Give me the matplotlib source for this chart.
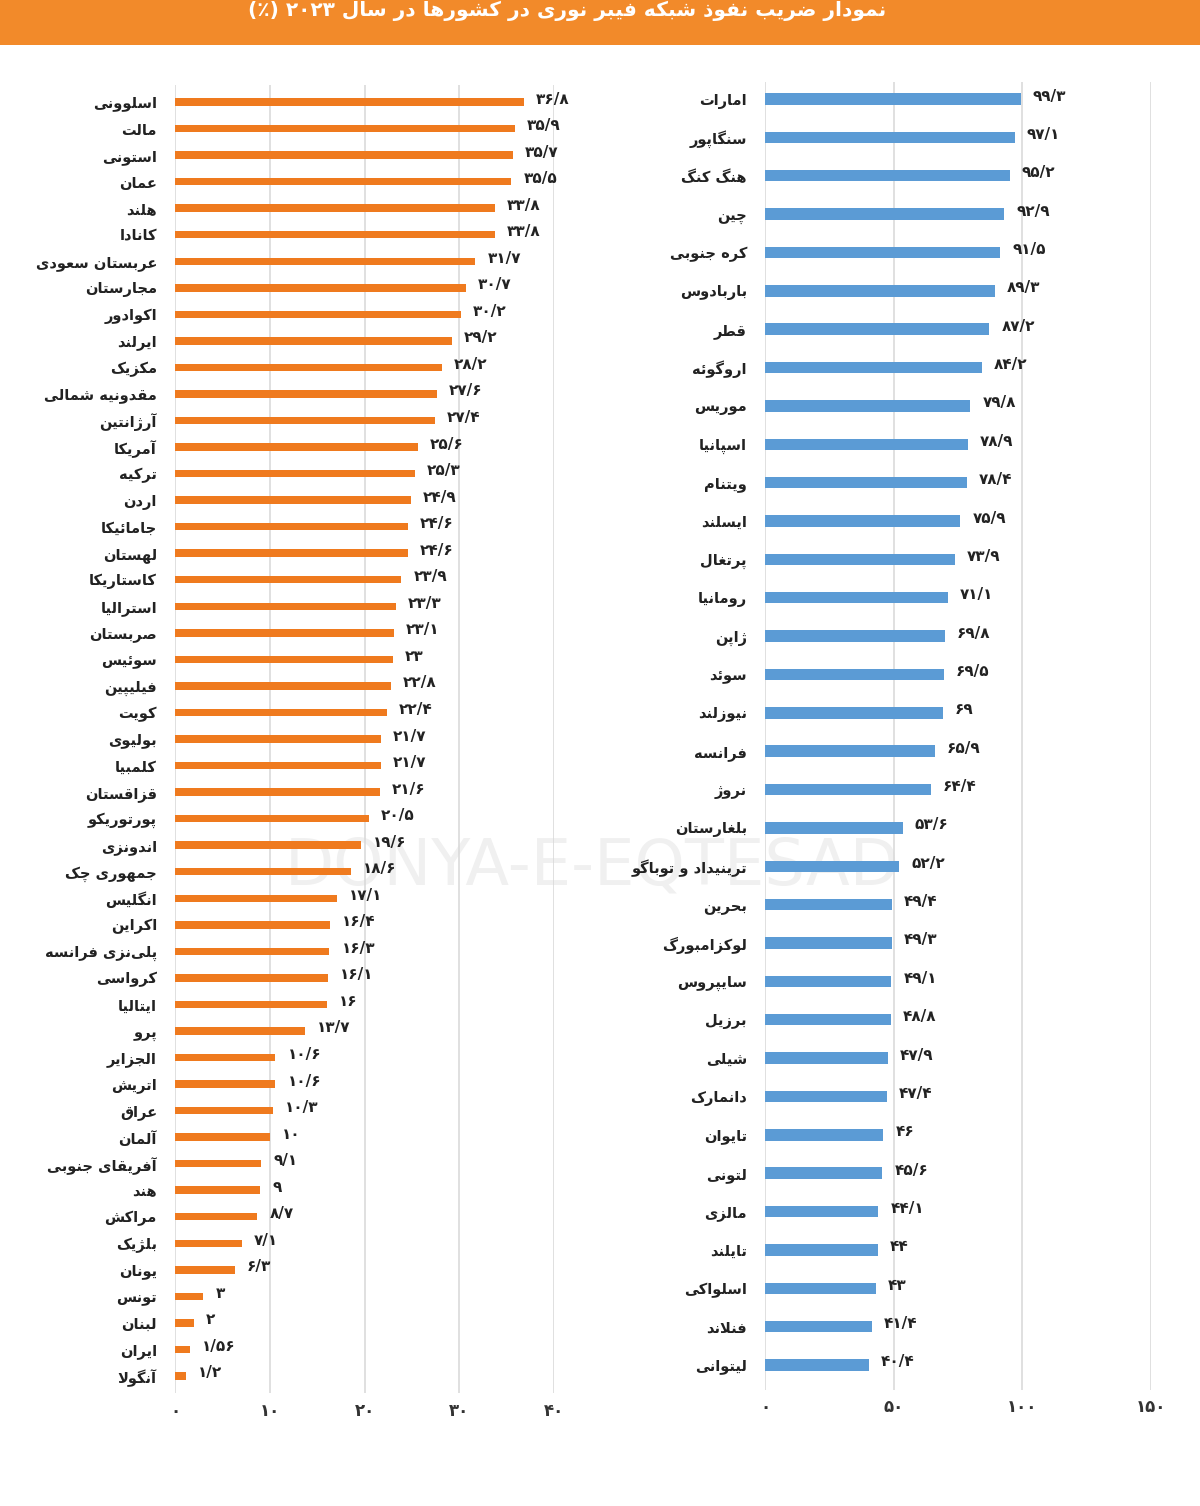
import re
import matplotlib
matplotlib.use("Agg")
import matplotlib.pyplot as plt
from matplotlib.patches import Rectangle
from matplotlib.ticker import FixedLocator, FuncFormatter

# ---------------- data ----------------
title_text = "نمودار ضریب نفوذ شبکه فیبر نوری در کشورها در سال ۲۰۲۳ (٪)"

left_countries = ['اسلوونی', 'مالت', 'استونی', 'عمان', 'هلند', 'کانادا', 'عربستان سعودی',
                  'مجارستان', 'اکوادور', 'ایرلند', 'مکزیک', 'مقدونیه شمالی', 'آرژانتین',
                  'آمریکا', 'ترکیه', 'اردن', 'جامائیکا', 'لهستان', 'کاستاریکا', 'استرالیا',
                  'صربستان', 'سوئیس', 'فیلیپین', 'کویت', 'بولیوی', 'کلمبیا', 'قزاقستان',
                  'پورتوریکو', 'اندونزی', 'جمهوری چک', 'انگلیس', 'اکراین',
                  'پلی\u200cنزی فرانسه', 'کرواسی', 'ایتالیا', 'پرو', 'الجزایر', 'اتریش',
                  'عراق', 'آلمان', 'آفریقای جنوبی', 'هند', 'مراکش', 'بلژیک', 'یونان',
                  'تونس', 'لبنان', 'ایران', 'آنگولا']
left_values = [36.8, 35.9, 35.7, 35.5, 33.8, 33.8, 31.7, 30.7, 30.2, 29.2, 28.2, 27.6, 27.4,
               25.6, 25.3, 24.9, 24.6, 24.6, 23.9, 23.3, 23.1, 23, 22.8, 22.4, 21.7, 21.7,
               21.6, 20.5, 19.6, 18.6, 17.1, 16.4, 16.3, 16.1, 16, 13.7, 10.6, 10.6, 10.3,
               10, 9.1, 9, 8.7, 7.1, 6.3, 3, 2, 1.56, 1.2]
left_ticks = [0, 10, 20, 30, 40]

right_countries = ['امارات', 'سنگاپور', 'هنگ کنگ', 'چین', 'کره جنوبی', 'باربادوس', 'قطر',
                   'اروگوئه', 'موریس', 'اسپانیا', 'ویتنام', 'ایسلند', 'پرتغال', 'رومانیا',
                   'ژاپن', 'سوئد', 'نیوزلند', 'فرانسه', 'نروژ', 'بلغارستان',
                   'ترینیداد و توباگو', 'بحرین', 'لوکزامبورگ', 'سایپروس', 'برزیل', 'شیلی',
                   'دانمارک', 'تایوان', 'لتونی', 'مالزی', 'تایلند', 'اسلواکی', 'فنلاند',
                   'لیتوانی']
right_values = [99.3, 97.1, 95.2, 92.9, 91.5, 89.3, 87.2, 84.2, 79.8, 78.9, 78.4, 75.9,
                73.9, 71.1, 69.8, 69.5, 69, 65.9, 64.4, 53.6, 52.2, 49.4, 49.3, 49.1, 48.8,
                47.9, 47.4, 46, 45.6, 44.1, 44, 43, 41.4, 40.4]
right_ticks = [0, 50, 100, 150]

# ---------------- simple Persian shaping ----------------
FORMS = {
    'ا': ('\uFE8D', '\uFE8E', None, None), 'آ': ('\uFE81', '\uFE82', None, None),
    'ب': ('\uFE8F', '\uFE90', '\uFE91', '\uFE92'), 'پ': ('\uFB56', '\uFB57', '\uFB58', '\uFB59'),
    'ت': ('\uFE95', '\uFE96', '\uFE97', '\uFE98'), 'ث': ('\uFE99', '\uFE9A', '\uFE9B', '\uFE9C'),
    'ج': ('\uFE9D', '\uFE9E', '\uFE9F', '\uFEA0'), 'چ': ('\uFB7A', '\uFB7B', '\uFB7C', '\uFB7D'),
    'ح': ('\uFEA1', '\uFEA2', '\uFEA3', '\uFEA4'), 'خ': ('\uFEA5', '\uFEA6', '\uFEA7', '\uFEA8'),
    'د': ('\uFEA9', '\uFEAA', None, None), 'ذ': ('\uFEAB', '\uFEAC', None, None),
    'ر': ('\uFEAD', '\uFEAE', None, None), 'ز': ('\uFEAF', '\uFEB0', None, None),
    'ژ': ('\uFB8A', '\uFB8B', None, None),
    'س': ('\uFEB1', '\uFEB2', '\uFEB3', '\uFEB4'), 'ش': ('\uFEB5', '\uFEB6', '\uFEB7', '\uFEB8'),
    'ص': ('\uFEB9', '\uFEBA', '\uFEBB', '\uFEBC'), 'ض': ('\uFEBD', '\uFEBE', '\uFEBF', '\uFEC0'),
    'ط': ('\uFEC1', '\uFEC2', '\uFEC3', '\uFEC4'), 'ظ': ('\uFEC5', '\uFEC6', '\uFEC7', '\uFEC8'),
    'ع': ('\uFEC9', '\uFECA', '\uFECB', '\uFECC'), 'غ': ('\uFECD', '\uFECE', '\uFECF', '\uFED0'),
    'ف': ('\uFED1', '\uFED2', '\uFED3', '\uFED4'), 'ق': ('\uFED5', '\uFED6', '\uFED7', '\uFED8'),
    'ک': ('\uFB8E', '\uFB8F', '\uFB90', '\uFB91'), 'گ': ('\uFB92', '\uFB93', '\uFB94', '\uFB95'),
    'ل': ('\uFEDD', '\uFEDE', '\uFEDF', '\uFEE0'), 'م': ('\uFEE1', '\uFEE2', '\uFEE3', '\uFEE4'),
    'ن': ('\uFEE5', '\uFEE6', '\uFEE7', '\uFEE8'), 'و': ('\uFEED', '\uFEEE', None, None),
    'ه': ('\uFEE9', '\uFEEA', '\uFEEB', '\uFEEC'), 'ی': ('\uFBFC', '\uFBFD', '\uFBFE', '\uFBFF'),
    'ئ': ('\uFE89', '\uFE8A', '\uFE8B', '\uFE8C'),
}
LAM_ALEF = {'ا': ('\uFEFB', '\uFEFC'), 'آ': ('\uFEF5', '\uFEF6')}


def shape(text):
    out = []
    chars = list(text)
    n = len(chars)
    i = 0
    while i < n:
        ch = chars[i]
        if ch not in FORMS:
            if ch != '\u200c':
                out.append(ch)
            i += 1
            continue
        prev = chars[i - 1] if i > 0 else None
        joins_prev = prev in FORMS and FORMS[prev][2] is not None
        if ch == 'ل' and i + 1 < n and chars[i + 1] in LAM_ALEF:
            iso, fin = LAM_ALEF[chars[i + 1]]
            out.append(fin if joins_prev else iso)
            i += 2
            continue
        nxt = chars[i + 1] if i + 1 < n else None
        joins_next = FORMS[ch][2] is not None and nxt in FORMS
        iso, fin, ini, med = FORMS[ch]
        if joins_prev and joins_next:
            out.append(med)
        elif joins_prev:
            out.append(fin)
        elif joins_next:
            out.append(ini)
        else:
            out.append(iso)
        i += 1
    return ''.join(out)


MIRROR = {'(': ')', ')': '('}


def rtl(text):
    s = shape(text)
    tokens = re.findall(r'[0-9\u06F0-\u06F9/]+|[^0-9\u06F0-\u06F9/]+', s)
    vis = []
    for t in reversed(tokens):
        if re.match(r'[0-9\u06F0-\u06F9]', t):
            vis.append(t)
        else:
            vis.append(''.join(MIRROR.get(c, c) for c in reversed(t)))
    return ''.join(vis)


FA_DIGITS = str.maketrans('0123456789.', '۰۱۲۳۴۵۶۷۸۹/')


def fa_num(v):
    return ('%g' % v).translate(FA_DIGITS)


# ---------------- figure ----------------
W, H = 1200, 1506
plt.rcParams['font.family'] = ['DejaVu Sans']
fig = plt.figure(figsize=(W / 100, H / 100), dpi=100)
fig.patch.set_facecolor('white')

ORANGE = '#EF7A1E'
BLUE = '#5B9BD5'
GRID = '#DADADA'

# header band
fig.patches.append(Rectangle((0, 1 - 45 / H), 1, 45 / H, transform=fig.transFigure,
                             facecolor='#F28A2A', edgecolor='none', zorder=0))
fig.text(567 / W, 1 - 11 / H, rtl(title_text), color='white', fontsize=14.5,
         fontweight='bold', ha='center', va='center')

# faint watermark (behind the charts)
fig.text(592 / W, 1 - 866 / H, 'DONYA-E-EQTESAD', color='#F0F0F0', fontsize=46,
         ha='center', va='center', zorder=-1)


def px_axes(x0, x1, y0, y1):
    return fig.add_axes([x0 / W, 1 - y1 / H, (x1 - x0) / W, (y1 - y0) / H])


def draw(ax, countries, values, ticks, xmax, color, bar_h, lab_off, top_pad):
    n = len(countries)
    ys = list(range(n))
    ax.set_facecolor('none')
    ax.barh(ys, values, height=bar_h, color=color, zorder=3)
    ax.set_xlim(0, xmax)
    ax.set_ylim(n - 1 + 0.65, -top_pad)
    ax.xaxis.set_major_locator(FixedLocator(ticks))
    ax.xaxis.set_major_formatter(FuncFormatter(lambda v, p: fa_num(v)))
    ax.set_yticks(ys)
    ax.set_yticklabels([rtl(c) for c in countries], fontsize=10.5, fontweight='bold',
                       color='#222222')
    ax.tick_params(axis='y', length=0, pad=13)
    ax.tick_params(axis='x', length=0, pad=6, labelsize=12, labelcolor='#333333')
    for lab in ax.get_xticklabels():
        lab.set_fontweight('bold')
    for sp in ax.spines.values():
        sp.set_visible(False)
    ax.grid(axis='x', color=GRID, linewidth=1.2, zorder=1)
    ax.set_axisbelow(True)
    for y, v in zip(ys, values):
        ax.annotate(fa_num(v), (v, y), xytext=(lab_off, 3), textcoords='offset pixels',
                    ha='left', va='center', fontsize=11, fontweight='bold',
                    color='#222222', annotation_clip=False, zorder=4)


axL = px_axes(175, 554, 102 - 0.65 * 26.54, 1376 + 0.65 * 26.54)
draw(axL, left_countries, left_values, left_ticks, 40, ORANGE, 0.28, 12, 0.65)

axR = px_axes(765, 1151, 99 - 0.45 * 38.36, 1365 + 0.65 * 38.36)
draw(axR, right_countries, right_values, right_ticks, 150, BLUE, 0.3, 12, 0.45)

fig.savefig('out.png', dpi=100, facecolor='white')
